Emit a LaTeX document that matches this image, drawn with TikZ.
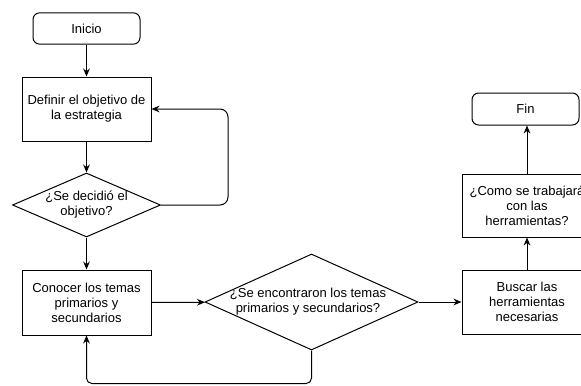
\documentclass[tikz,border=0pt]{standalone}
\usepackage{fontspec}
\setmainfont{Liberation Sans}
\usetikzlibrary{shapes.geometric,arrows.meta}

\tikzset{every picture/.style={line width=0.75pt}}
\tikzset{
	base/.style={draw, align=center, inner sep=2pt, font=\fontsize{9.75}{11.25}\selectfont},
	terminal/.style={base, rounded corners=5pt, minimum width=80.25pt, minimum height=23.5pt},
	process/.style={base, rectangle, minimum width=96.75pt, minimum height=48pt},
	decision/.style={draw, diamond, inner sep=0pt},
	dtext/.style={align=center, inner sep=0pt, font=\fontsize{9.75}{11.25}\selectfont},
	flow/.style={-{Stealth[length=6pt,width=5pt]}}
}

\begin{document}
\begin{tikzpicture}[x=0.75pt,y=0.75pt,yscale=-1,xscale=1]
	\useasboundingbox (0,0) rectangle (581,385);

	% Left column
	\node [terminal] (ini) at (86.5,28.5) {Inicio};
	\node [process] (def) at (86.5,109) {Definir el objetivo de\\la estrategia};
	\node [decision, minimum width=111pt, minimum height=48pt] (d1) at (86.5,205) {};
	\node [dtext] (d1t) at (86.5,205) {¿Se decidió el\\objetivo?};
	\node [process, minimum height=48.75pt] (con) at (86.5,302.5) {Conocer los temas\\primarios y\\secundarios};

	% Middle decision
	\node [decision, minimum width=159.75pt, minimum height=72pt] (d2) at (311.5,302) {};
	\node [dtext] (d2t) at (308,302) {¿Se encontraron los temas\\primarios y secundarios?};

	% Right column
	\node [process, minimum width=97.5pt] (bus) at (527,302) {Buscar las\\herramientas\\necesarias};
	\node [process, minimum width=97.5pt, minimum height=47.25pt] (com) at (527,205.5) {¿Como se trabajará\\con las\\herramientas?};
	\node [terminal, minimum height=24pt] (fin) at (525.5,109) {Fin};

	% Connectors
	\draw [flow] (ini) -- (def);
	\draw [flow] (def) -- (d1);
	\draw [flow, rounded corners=6pt] (d1.east) -- ++(67,0) |- (def.east);
	\draw [flow] (d1) -- (con);
	\draw [flow] (con) -- (d2);
	\draw [flow, rounded corners=4pt] (d2.south) -- ++(0,33) -| (con.south);
	\draw [flow] (d2) -- (bus);
	\draw [flow] (bus) -- (com);
	\draw [flow] (com.north) -- (com.north |- fin.south);

\end{tikzpicture}
\end{document}
